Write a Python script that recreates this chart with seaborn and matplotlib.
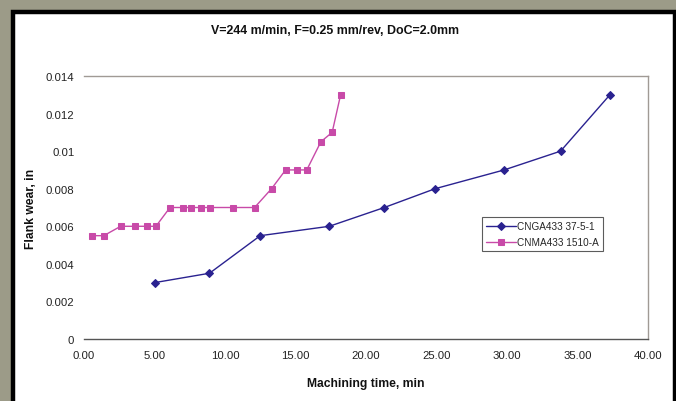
import matplotlib
matplotlib.use("Agg")
import matplotlib.pyplot as plt
import seaborn as sns
import pandas as pd
from matplotlib.patches import Rectangle

# ---- data ----
cnga_time = [5.0, 8.9, 12.5, 17.4, 21.3, 24.9, 29.8, 33.8, 37.3]
cnga_wear = [0.003, 0.0035, 0.0055, 0.006, 0.007, 0.008, 0.009, 0.010, 0.013]

cnma_time = [0.6, 1.4, 2.6, 3.65, 4.5, 5.1, 6.1, 7.0, 7.6, 8.3, 8.95, 10.6, 12.1,
             13.3, 14.3, 15.1, 15.8, 16.8, 17.6, 18.2]
cnma_wear = [0.0055, 0.0055, 0.006, 0.006, 0.006, 0.006, 0.007, 0.007, 0.007, 0.007,
             0.007, 0.007, 0.007, 0.008, 0.009, 0.009, 0.009, 0.0105, 0.011, 0.013]

series_names = ["CNGA433 37-5-1", "CNMA433 1510-A"]
x_ticks = [0, 5, 10, 15, 20, 25, 30, 35, 40]
x_tick_labels = ["0.00", "5.00", "10.00", "15.00", "20.00", "25.00", "30.00", "35.00", "40.00"]
y_ticks = [0, 0.002, 0.004, 0.006, 0.008, 0.010, 0.012, 0.014]
y_tick_labels = ["0", "0.002", "0.004", "0.006", "0.008", "0.01", "0.012", "0.014"]

title = "V=244 m/min, F=0.25 mm/rev, DoC=2.0mm"
xlabel = "Machining time, min"
ylabel = "Flank wear, in"

sns.set_theme(style="white")
plt.rcParams["font.family"] = ["Liberation Sans", "DejaVu Sans"]

W, H = 676, 402
fig = plt.figure(figsize=(W / 100, H / 100), dpi=100)
fig.patch.set_facecolor("#9c9b88")

# white panel with black border
panel = Rectangle((12.5 / W, -0.05), (674.5 - 12.5) / W, (H - 12.5) / H + 0.05,
                  transform=fig.transFigure, facecolor="white",
                  edgecolor="black", linewidth=3.2, zorder=-10)
fig.patches.append(panel)

ax = fig.add_axes([84 / W, 1 - 340 / H, (648 - 84) / W, (340 - 77) / H])
ax.set_zorder(5)
ax.set_facecolor("white")

blue = "#2a2290"
pink = "#c84aa8"

df1 = pd.DataFrame({"t": cnga_time, "w": cnga_wear})
df2 = pd.DataFrame({"t": cnma_time, "w": cnma_wear})
sns.lineplot(data=df1, x="t", y="w", ax=ax, color=blue, marker="D", markersize=4.2,
             markeredgecolor=blue, linewidth=1.0, sort=False, label=series_names[0])
sns.lineplot(data=df2, x="t", y="w", ax=ax, color=pink, marker="s", markersize=4.0,
             markeredgecolor=pink, linewidth=1.0, sort=False, label=series_names[1])

ax.set_xlim(0, 40)
ax.set_ylim(0, 0.014)
ax.set_xticks(x_ticks)
ax.set_xticklabels(x_tick_labels)
ax.set_yticks(y_ticks)
ax.set_yticklabels(y_tick_labels)
ax.tick_params(axis="both", labelsize=8.2, colors="#222222", length=3, width=0.8,
               direction="out", pad=4)
ax.tick_params(axis="x", pad=5)
ax.tick_params(axis="y", length=3, color="#999999")

for s in ["top", "right"]:
    ax.spines[s].set_color("#a09a95")
    ax.spines[s].set_linewidth(1.0)
ax.spines["left"].set_visible(False)
ax.spines["bottom"].set_color("#555555")
ax.spines["bottom"].set_linewidth(1.0)

ax.set_xlabel(xlabel, fontsize=8.7, fontweight="bold", color="#111111", labelpad=12)
ax.set_ylabel(ylabel, fontsize=8.7, fontweight="bold", color="#111111", labelpad=6)
fig.text(335 / W, 1 - 31 / H, title, ha="center", va="center", fontsize=8.9,
         fontweight="bold", color="#111111")

leg = ax.legend(loc="upper left", bbox_to_anchor=((482 - 84) / (648 - 84), (340 - 218) / (340 - 77)),
                fontsize=7.2, frameon=True, fancybox=False, handlelength=3.0,
                handletextpad=0.1, borderpad=0.4, labelspacing=0.6, borderaxespad=0)
leg.get_frame().set_edgecolor("#333333")
leg.get_frame().set_linewidth(0.8)

fig.savefig("out.png", dpi=100, facecolor=fig.get_facecolor())
